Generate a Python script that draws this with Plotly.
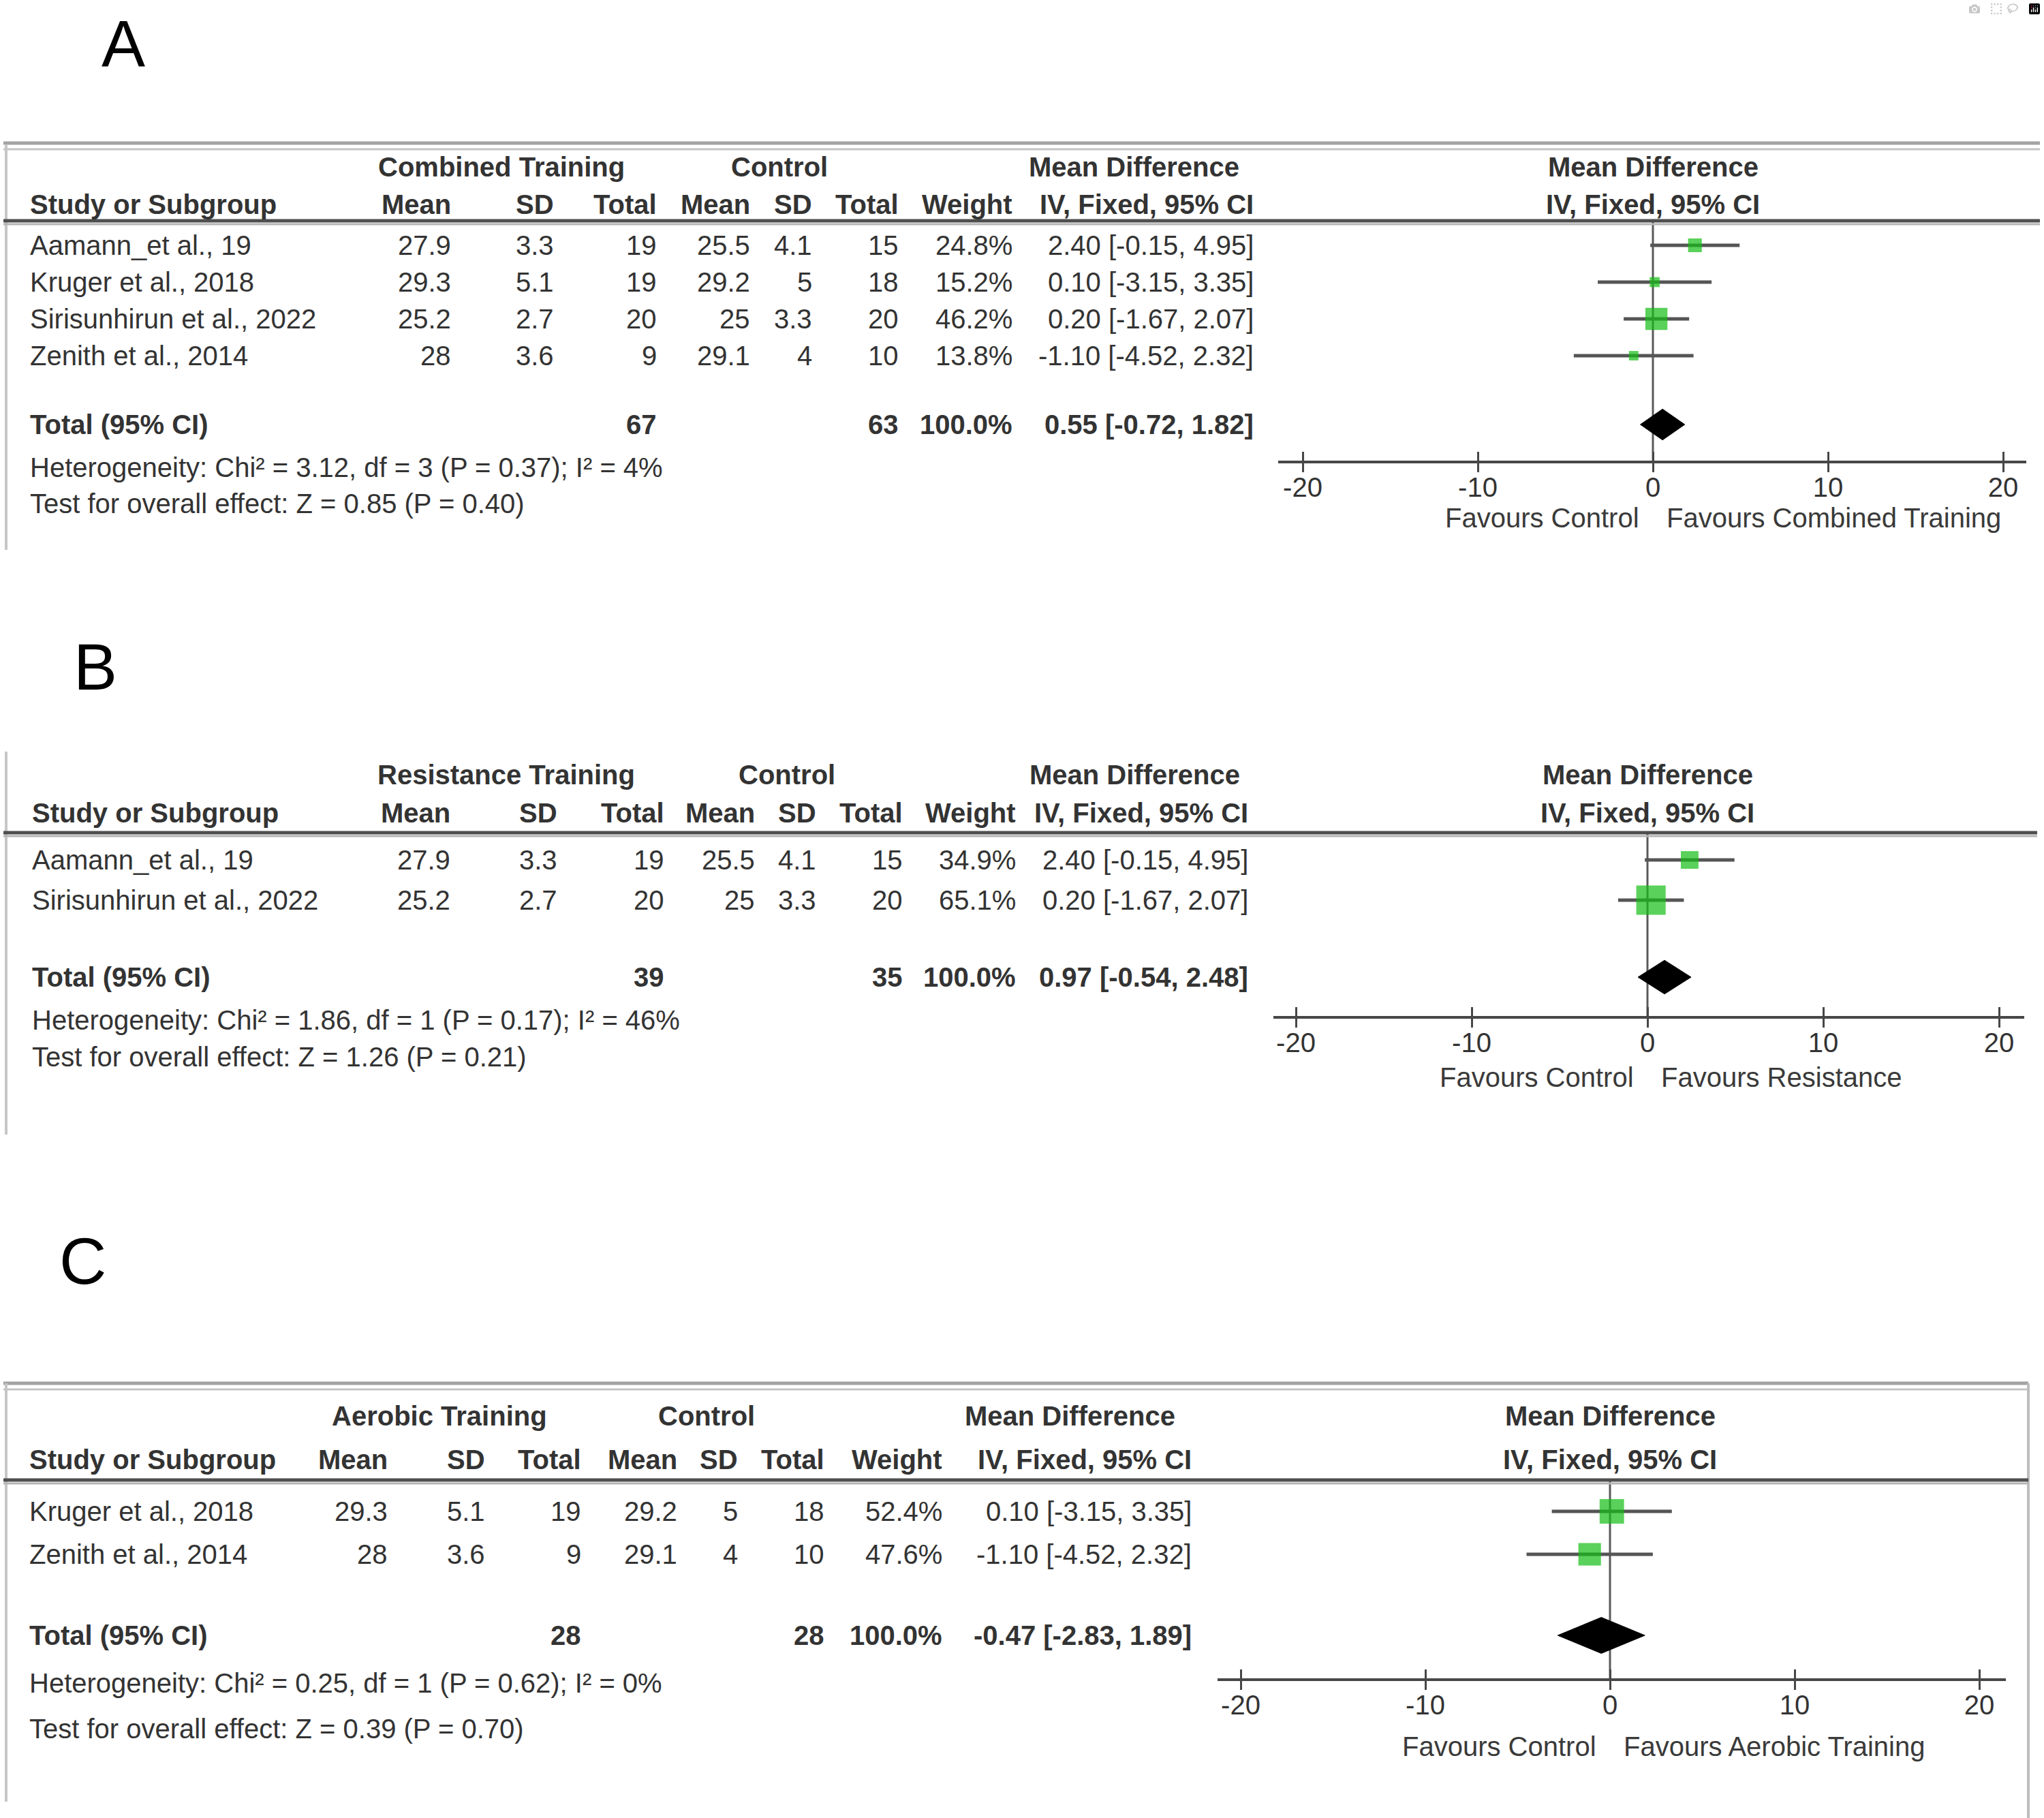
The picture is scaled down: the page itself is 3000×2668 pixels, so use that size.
import plotly.graph_objects as go

W, H = 3000, 2668
FONT = "Liberation Sans, Arial, sans-serif"
INK = "#333333"

# ---------------- data ----------------
ticks = [-20, -10, 0, 10, 20]
tick_text = ["-20", "-10", "0", "10", "20"]

# A: combined training vs control
a_studies = ["Aamann_et al., 19", "Kruger et al., 2018", "Sirisunhirun et al., 2022", "Zenith et al., 2014"]
a_exp_mean = [27.9, 29.3, 25.2, 28]
a_exp_sd = [3.3, 5.1, 2.7, 3.6]
a_exp_n = [19, 19, 20, 9]
a_ctl_mean = [25.5, 29.2, 25, 29.1]
a_ctl_sd = [4.1, 5, 3.3, 4]
a_ctl_n = [15, 18, 20, 10]
a_weight = [24.8, 15.2, 46.2, 13.8]
a_md = [2.40, 0.10, 0.20, -1.10]
a_lo = [-0.15, -3.15, -1.67, -4.52]
a_hi = [4.95, 3.35, 2.07, 2.32]
a_tot_n = [67, 63]
a_pooled = [0.55, -0.72, 1.82]
a_het = [3.12, 3, "0.37", 4]
a_test = ["0.85", "0.40"]

# B: resistance training vs control
b_studies = ["Aamann_et al., 19", "Sirisunhirun et al., 2022"]
b_exp_mean = [27.9, 25.2]
b_exp_sd = [3.3, 2.7]
b_exp_n = [19, 20]
b_ctl_mean = [25.5, 25]
b_ctl_sd = [4.1, 3.3]
b_ctl_n = [15, 20]
b_weight = [34.9, 65.1]
b_md = [2.40, 0.20]
b_lo = [-0.15, -1.67]
b_hi = [4.95, 2.07]
b_tot_n = [39, 35]
b_pooled = [0.97, -0.54, 2.48]
b_het = [1.86, 1, "0.17", 46]
b_test = ["1.26", "0.21"]

# C: aerobic training vs control
c_studies = ["Kruger et al., 2018", "Zenith et al., 2014"]
c_exp_mean = [29.3, 28]
c_exp_sd = [5.1, 3.6]
c_exp_n = [19, 9]
c_ctl_mean = [29.2, 29.1]
c_ctl_sd = [5, 4]
c_ctl_n = [18, 10]
c_weight = [52.4, 47.6]
c_md = [0.10, -1.10]
c_lo = [-3.15, -4.52]
c_hi = [3.35, 2.32]
c_tot_n = [28, 28]
c_pooled = [-0.47, -2.83, 1.89]
c_het = [0.25, 1, "0.62", 0]
c_test = ["0.39", "0.70"]

panels = [
    dict(letter="A", group="Combined Training", favours="Favours Combined Training",
         studies=a_studies, exp_mean=a_exp_mean, exp_sd=a_exp_sd, exp_n=a_exp_n,
         ctl_mean=a_ctl_mean, ctl_sd=a_ctl_sd, ctl_n=a_ctl_n, weight=a_weight,
         md=a_md, lo=a_lo, hi=a_hi, tot_n=a_tot_n, pooled=a_pooled, het=a_het, test=a_test),
    dict(letter="B", group="Resistance Training", favours="Favours Resistance",
         studies=b_studies, exp_mean=b_exp_mean, exp_sd=b_exp_sd, exp_n=b_exp_n,
         ctl_mean=b_ctl_mean, ctl_sd=b_ctl_sd, ctl_n=b_ctl_n, weight=b_weight,
         md=b_md, lo=b_lo, hi=b_hi, tot_n=b_tot_n, pooled=b_pooled, het=b_het, test=b_test),
    dict(letter="C", group="Aerobic Training", favours="Favours Aerobic Training",
         studies=c_studies, exp_mean=c_exp_mean, exp_sd=c_exp_sd, exp_n=c_exp_n,
         ctl_mean=c_ctl_mean, ctl_sd=c_ctl_sd, ctl_n=c_ctl_n, weight=c_weight,
         md=c_md, lo=c_lo, hi=c_hi, tot_n=c_tot_n, pooled=c_pooled, het=c_het, test=c_test),
]

# ---------------- layout geometry (pixels) ----------------
geoms = [
    dict(label=(181, 64), top=213, left=(213, 807), right=None, line_end=2994,
         hdr1=245, hdr2=300, under=324, row0=360, step=54, total=623, het=686, test=739,
         axis=676, xdom=(1876, 2974), zero=2426, ppu=25.7, fav=760,
         study=42, exp_hdr=736, ctl_hdr=1144, md_hdr=1664,
         cols=[664, 815, 966, 1103, 1194, 1321, 1488, 1842]),
    dict(label=(140, 978), top=None, left=(1103, 1665), right=None, line_end=2990,
         hdr1=1137, hdr2=1193, under=1222, row0=1262, step=59, total=1434, het=1497, test=1551,
         axis=1491, xdom=(1869, 2971), zero=2418, ppu=25.8, fav=1581,
         study=45, exp_hdr=743, ctl_hdr=1155, md_hdr=1665,
         cols=[663, 820, 977, 1110, 1200, 1327, 1493, 1834]),
    dict(label=(121, 1850), top=2033, left=(2030, 2644), right=(2030, 2668), line_end=2977,
         hdr1=2078, hdr2=2142, under=2172, row0=2218, step=63, total=2400, het=2470, test=2537,
         axis=2463, xdom=(1787, 2944), zero=2363, ppu=27.1, fav=2563,
         study=41, exp_hdr=645, ctl_hdr=1037, md_hdr=1570,
         cols=[571, 714, 855, 996, 1085, 1212, 1385, 1751]),
]

annotations, shapes, traces = [], [], []


def note(x, y, s, anchor="left", bold=False, size=40, color=INK):
    annotations.append(dict(
        x=x / W, y=1 - y / H, xref="paper", yref="paper", showarrow=False,
        text=f"<b>{s}</b>" if bold else s, xanchor=anchor, yanchor="middle",
        font=dict(family=FONT, size=size, color=color)))


def hline(y, x0, x1, color, width):
    shapes.append(dict(type="line", xref="paper", yref="paper", x0=x0 / W, x1=x1 / W,
                       y0=1 - y / H, y1=1 - y / H, line=dict(color=color, width=width)))


def vline(x, y0, y1, color, width):
    shapes.append(dict(type="line", xref="paper", yref="paper", x0=x / W, x1=x / W,
                       y0=1 - y0 / H, y1=1 - y1 / H, line=dict(color=color, width=width)))


axes = {}
for k, (d, g) in enumerate(zip(panels, geoms), start=1):
    xa = "x" if k == 1 else f"x{k}"
    ya = "y" if k == 1 else f"y{k}"
    n = len(d["studies"])
    cols = g["cols"]

    # frame lines
    if g["top"]:
        hline(g["top"] - 3, 5, g["line_end"], "#a3a3a3", 5)
        hline(g["top"] + 6, 5, g["line_end"], "#c4c4c4", 3)
    vline(9, g["left"][0], g["left"][1], "#c6c6c6", 4)
    if g["right"]:
        vline(g["line_end"], g["right"][0], g["right"][1], "#bdbdbd", 4)
    hline(g["under"], 5, g["line_end"], "#4f4f4f", 5)
    hline(g["under"] + 5, 5, g["line_end"], "#b5b5b5", 3)

    # panel letter
    note(g["label"][0], g["label"][1], d["letter"], "center", size=96, color="#000000")

    # headers
    note(g["exp_hdr"], g["hdr1"], d["group"], "center", True)
    note(g["ctl_hdr"], g["hdr1"], "Control", "center", True)
    note(g["md_hdr"], g["hdr1"], "Mean Difference", "center", True)
    note(g["zero"], g["hdr1"], "Mean Difference", "center", True)
    note(g["study"], g["hdr2"], "Study or Subgroup", bold=True)
    for c, h in zip(cols, ["Mean", "SD", "Total", "Mean", "SD", "Total", "Weight", "IV, Fixed, 95% CI"]):
        note(c, g["hdr2"], h, "right", True)
    note(g["zero"], g["hdr2"], "IV, Fixed, 95% CI", "center", True)

    # study rows
    for i in range(n):
        y = g["row0"] + i * g["step"]
        vals = [f"{d['exp_mean'][i]:g}", f"{d['exp_sd'][i]:g}", f"{d['exp_n'][i]}",
                f"{d['ctl_mean'][i]:g}", f"{d['ctl_sd'][i]:g}", f"{d['ctl_n'][i]}",
                f"{d['weight'][i]:.1f}%",
                f"{d['md'][i]:.2f} [{d['lo'][i]:.2f}, {d['hi'][i]:.2f}]"]
        note(g["study"], y, d["studies"][i])
        for c, v in zip(cols, vals):
            note(c, y, v, "right")

    # total row
    est, plo, phi = d["pooled"]
    note(g["study"], g["total"], "Total (95% CI)", bold=True)
    note(cols[2], g["total"], str(d["tot_n"][0]), "right", True)
    note(cols[5], g["total"], str(d["tot_n"][1]), "right", True)
    note(cols[6], g["total"], f"{sum(d['weight']):.1f}%", "right", True)
    note(cols[7], g["total"], f"{est:.2f} [{plo:.2f}, {phi:.2f}]", "right", True)
    chi, df, p, i2 = d["het"]
    note(g["study"], g["het"], f"Heterogeneity: Chi² = {chi:.2f}, df = {df} (P = {p}); I² = {i2}%")
    note(g["study"], g["test"], f"Test for overall effect: Z = {d['test'][0]} (P = {d['test'][1]})")

    # favours labels
    note(g["zero"] - 18, g["fav"], "Favours Control", "right", color="#3a3a3a")
    note(g["zero"] + 18, g["fav"], d["favours"], "left", color="#3a3a3a")

    # forest plot traces
    ci_x, ci_y = [], []
    for i in range(n):
        ci_x += [d["lo"][i], d["hi"][i], None]
        ci_y += [i, i, None]
    traces.append(go.Scatter(x=ci_x, y=ci_y, mode="lines", line=dict(color="#555555", width=5),
                             xaxis=xa, yaxis=ya, hoverinfo="skip"))
    traces.append(go.Scatter(x=d["md"], y=list(range(n)), mode="markers",
                             marker=dict(symbol="square", color="#14bd14", line=dict(width=0),
                                         size=[6 + 0.57 * w for w in d["weight"]]),
                             xaxis=xa, yaxis=ya))
    t = (g["total"] - g["row0"]) / g["step"]
    hh = 0.42
    traces.append(go.Scatter(x=[plo, est, phi, est, plo], y=[t, t - hh, t, t + hh, t],
                             mode="lines", fill="toself", fillcolor="#000000",
                             line=dict(color="#000000", width=1), xaxis=xa, yaxis=ya))
    traces.append(go.Scatter(x=[None], y=[None], xaxis=f"x{k + 3}", yaxis=ya))

    # zero line
    shapes.append(dict(type="line", xref=xa, yref=f"{ya} domain", x0=0, x1=0, y0=0, y1=1,
                       line=dict(color="#5a5a5a", width=3), layer="below"))

    x0, x1 = g["xdom"]
    xrange = [(x0 - g["zero"]) / g["ppu"], (x1 - g["zero"]) / g["ppu"]]
    dom = [x0 / W, x1 / W]
    axes[f"xaxis{'' if k == 1 else k}"] = dict(
        domain=dom, range=xrange, anchor=ya, showline=True, linecolor="#474747", linewidth=4,
        ticks="outside", ticklen=13, tickwidth=3, tickcolor="#474747", ticklabelstandoff=-12,
        tickvals=ticks, ticktext=tick_text, showgrid=False, zeroline=False,
        tickfont=dict(family=FONT, size=40, color=INK), fixedrange=True)
    axes[f"xaxis{k + 3}"] = dict(
        overlaying=xa, anchor=ya, domain=dom, range=xrange, ticks="inside", ticklen=13,
        tickwidth=3, tickcolor="#474747", tickvals=ticks, showticklabels=False,
        showline=False, showgrid=False, zeroline=False, fixedrange=True)
    yr = [(g["axis"] - g["row0"]) / g["step"], (g["under"] - g["row0"]) / g["step"]]
    axes[f"yaxis{'' if k == 1 else k}"] = dict(
        domain=[1 - g["axis"] / H, 1 - g["under"] / H], range=yr, visible=False, fixedrange=True)

fig = go.Figure(traces)
fig.update_traces(showlegend=False)
fig.update_layout(
    width=W, height=H, margin=dict(l=0, r=0, t=0, b=0),
    paper_bgcolor="white", plot_bgcolor="rgba(0,0,0,0)",
    showlegend=False, annotations=annotations, shapes=shapes,
    font=dict(family=FONT, color=INK), **axes)

fig.write_html("out.html", post_script="document.body.style.margin='0';")
